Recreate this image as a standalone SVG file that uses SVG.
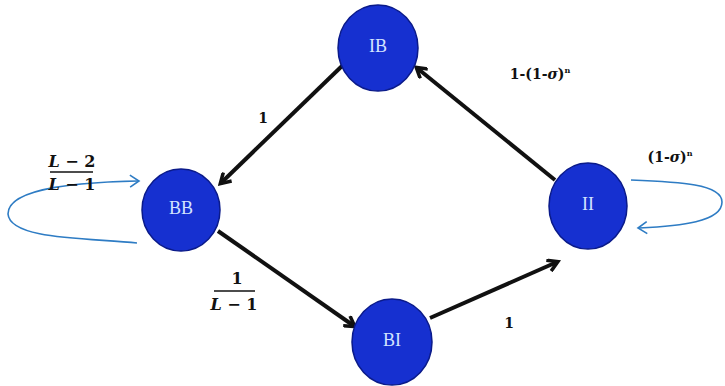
<svg xmlns="http://www.w3.org/2000/svg" width="725" height="386" viewBox="0 0 725 386">
<style>
.node{fill:#1630d0;stroke:#0a1a8a;stroke-width:1.5}
.nl{font-family:"Liberation Serif",serif;font-size:18px;fill:#d4e4ff;text-anchor:middle}
.edge{stroke:#111;stroke-width:4;fill:none}
.loop{stroke:#2e7cc4;stroke-width:1.6;fill:none}
.lb{font-family:"DejaVu Serif","Liberation Serif",serif;font-weight:bold;font-size:14px;fill:#111;text-anchor:middle}
.fr{font-family:"DejaVu Serif","Liberation Serif",serif;font-weight:bold;font-size:16px;fill:#111;text-anchor:middle}
</style>
<defs>
<marker id="ah" markerWidth="14" markerHeight="14" refX="10" refY="7" orient="auto" markerUnits="userSpaceOnUse" viewBox="0 0 14 14">
<path d="M1,1 L11,7 L1,13" fill="none" stroke="#111" stroke-width="3.5" stroke-linejoin="miter"/>
</marker>
<marker id="ahb" markerWidth="14" markerHeight="14" refX="10" refY="7" orient="auto" markerUnits="userSpaceOnUse" viewBox="0 0 14 14">
<path d="M2,1 L11,7 L2,13" fill="none" stroke="#2e7cc4" stroke-width="1.6"/>
</marker>
</defs>
<g id="connectors">
<line class="edge" x1="342" y1="66" x2="221" y2="183" marker-end="url(#ah)"/>
<line class="edge" x1="218" y1="231" x2="354" y2="326" marker-end="url(#ah)"/>
<line class="edge" x1="430" y1="318" x2="557" y2="262" marker-end="url(#ah)"/>
<line class="edge" x1="555" y1="180" x2="417" y2="68" marker-end="url(#ah)"/>
<path class="loop" d="M137,243 C90,238 10,240 8,214 C8,186 90,182 138,181" marker-end="url(#ahb)"/>
<path class="loop" d="M631,180 C680,182 722,184 722,202 C722,222 680,226 639,228" marker-end="url(#ahb)"/>
</g>
<g id="IB"><ellipse class="node" cx="378" cy="48" rx="40" ry="43"/><text class="nl" x="378" y="52">IB</text></g>
<g id="BB"><ellipse class="node" cx="181" cy="210" rx="39" ry="41"/><text class="nl" x="181" y="214">BB</text></g>
<g id="BI"><ellipse class="node" cx="392" cy="342" rx="40" ry="43"/><text class="nl" x="392" y="346">BI</text></g>
<g id="II"><ellipse class="node" cx="588" cy="206" rx="39" ry="43"/><text class="nl" x="588" y="210">II</text></g>
<g id="labels">
<text class="lb" x="263" y="123">1</text>
<text class="lb" x="509" y="328">1</text>
<text class="lb" x="540" y="79">1-(1-<tspan font-style="italic">σ</tspan>)<tspan font-size="8" dy="-6">n</tspan></text>
<text class="lb" x="670" y="162">(1-<tspan font-style="italic">σ</tspan>)<tspan font-size="8" dy="-6">n</tspan></text>
<text class="fr" x="72" y="167"><tspan font-style="italic">L</tspan> − 2</text>
<line x1="50" y1="172" x2="93" y2="172" stroke="#111" stroke-width="1.5"/>
<text class="fr" x="72" y="190"><tspan font-style="italic">L</tspan> − 1</text>
<text class="fr" x="237" y="284">1</text>
<line x1="214" y1="291" x2="255" y2="291" stroke="#111" stroke-width="1.5"/>
<text class="fr" x="234" y="310"><tspan font-style="italic">L</tspan> − 1</text>
</g>
</svg>
